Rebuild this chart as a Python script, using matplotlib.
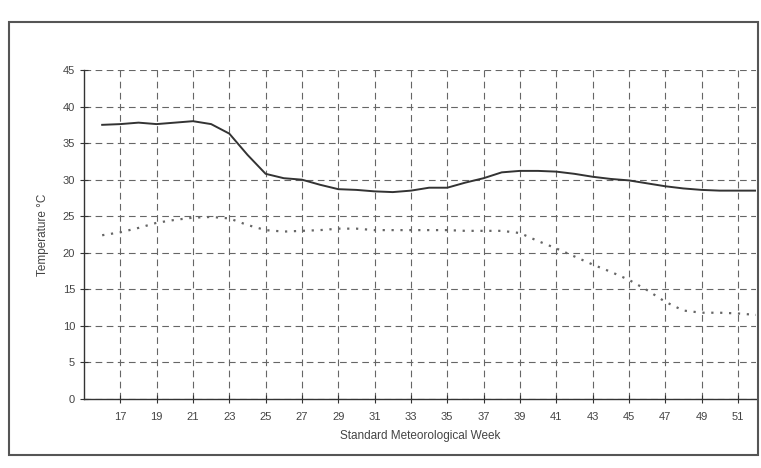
import numpy as np
import matplotlib.pyplot as plt
from matplotlib.patches import Rectangle

plt.rcParams['font.family'] = ['Liberation Sans', 'DejaVu Sans']

# Standard meteorological weeks 16..52
weeks = np.arange(16, 53)

# Maximum temperature (solid line)
t_max = [37.5, 37.6, 37.8, 37.6, 37.8, 38.0, 37.6, 36.3, 33.4, 30.8,
         30.2, 30.0, 29.3, 28.7, 28.6, 28.4, 28.3, 28.5, 28.9, 28.9,
         29.6, 30.2, 31.0, 31.2, 31.2, 31.1, 30.8, 30.4, 30.1, 29.9,
         29.5, 29.1, 28.8, 28.6, 28.5, 28.5, 28.5]

# Minimum temperature (dotted line)
t_min = [22.4, 22.8, 23.4, 24.1, 24.5, 24.8, 24.9, 24.7, 23.8, 23.1,
         22.9, 23.0, 23.1, 23.3, 23.3, 23.1, 23.1, 23.1, 23.1, 23.1,
         23.0, 23.0, 23.0, 22.7, 21.6, 20.6, 19.5, 18.4, 17.4, 16.3,
         14.9, 13.3, 12.1, 11.8, 11.8, 11.7, 11.5]

xticks = list(range(17, 52, 2))
yticks = list(range(0, 46, 5))

W, H = 761, 468
fig = plt.figure(figsize=(W / 100, H / 100), dpi=100)
ax = fig.add_axes([84 / W, 1 - 399 / H, (756 - 84) / W, (399 - 70) / H])

ax.plot(weeks, t_max, color='#333333', linewidth=1.4)
ax.plot(weeks, t_min, color='#666666', linewidth=1.6, linestyle=(0, (1, 3)))

ax.set_xlim(15, 52)
ax.set_ylim(0, 45)
ax.set_xticks(xticks)
ax.set_yticks(yticks)

# dashed grid like the old spreadsheet chart
ax.grid(True, color='#666666', linestyle=(0, (6, 4)), linewidth=0.8)
ax.set_axisbelow(True)

for s in ['top', 'right']:
    ax.spines[s].set_visible(False)
for s in ['left', 'bottom']:
    ax.spines[s].set_color('#333333')
    ax.spines[s].set_linewidth(1.0)

ax.tick_params(axis='both', direction='inout', length=6, width=0.8,
               colors='#333333', labelsize=8, labelcolor='#444444')
ax.tick_params(axis='x', pad=6)

ax.set_xlabel('Standard Meteorological Week', fontsize=8.5, color='#444444', labelpad=6)
ax.set_ylabel('Temperature °C', fontsize=8.5, color='#444444', labelpad=10)

# chart area border
fig.patches.append(Rectangle((9 / W, 1 - 455 / H), (758 - 9) / W, (455 - 22) / H,
                             transform=fig.transFigure, fill=False,
                             edgecolor='#555555', linewidth=1.5))

fig.savefig('out.png', dpi=100)
